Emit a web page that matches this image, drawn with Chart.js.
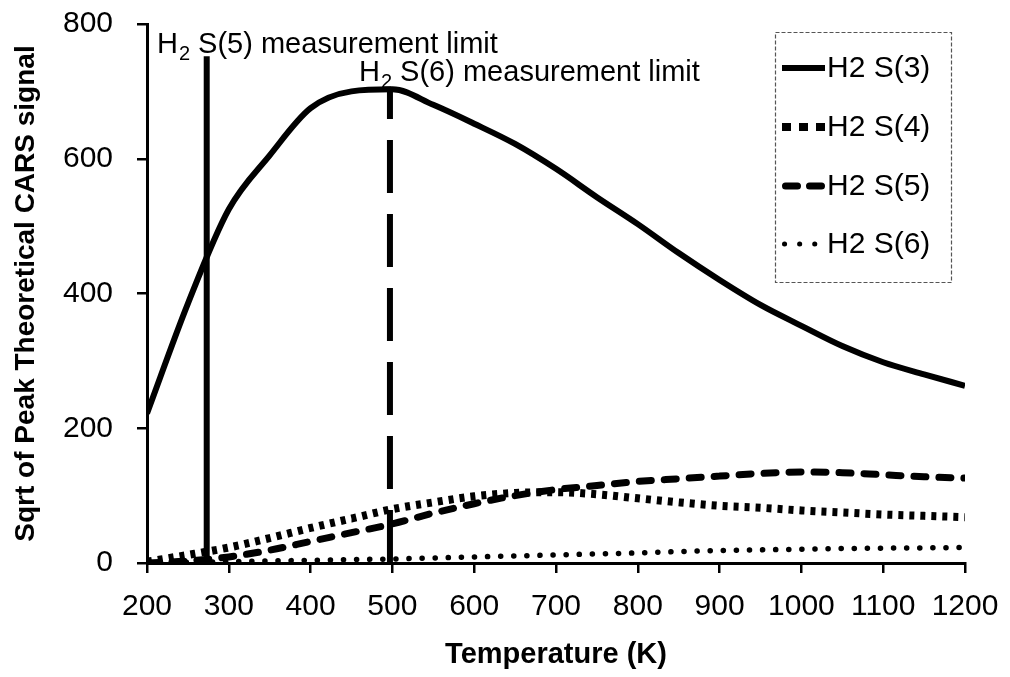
<!DOCTYPE html>
<html>
<head>
<meta charset="utf-8">
<script src="https://cdn.jsdelivr.net/npm/chart.js@4.4.1/dist/chart.umd.min.js"></script>
<style>
  html, body { margin: 0; padding: 0; background: #fff; }
  #wrap { width: 1010px; height: 677px; }
</style>
</head>
<body>
<div id="wrap"><canvas id="c" width="1010" height="677"></canvas></div>
<script>
// ---- data ----
const temperatures = [200, 250, 300, 350, 400, 450, 500, 550, 600, 650, 700, 750, 800, 850, 900, 950, 1000, 1050, 1100, 1150, 1200];
const seriesNames = ['H2 S(3)', 'H2 S(4)', 'H2 S(5)', 'H2 S(6)'];
const s3 = [222, 385, 525, 605, 675, 700, 703, 680, 652, 622, 585, 543, 503, 460, 420, 383, 352, 322, 298, 280, 263];
const s4 = [2, 12, 23, 37, 52, 66, 80, 90, 99, 104, 105, 102, 96, 90, 85, 82, 78, 75, 72, 70, 68];
const s5 = [0, 3, 9, 19, 32, 45, 58, 74, 88, 100, 109, 115, 121, 125, 129, 133, 135, 134, 131, 128, 126];
const s6 = [0, 1, 2, 3, 4, 5, 6, 7.5, 9, 10.5, 12, 13.5, 15, 17, 18.5, 19.5, 20.5, 21.5, 22, 22.5, 23];
const limitS5 = { t: 273, top: 752 };
const limitS6 = { t: 497, top: 704 };
const xTicks = [200, 300, 400, 500, 600, 700, 800, 900, 1000, 1100, 1200];
const yTicks = [0, 200, 400, 600, 800];

const toPts = (arr) => arr.map((v, i) => ({ x: temperatures[i], y: v }));

const styles = [
  { borderWidth: 6, borderDash: [], borderCapStyle: 'butt', legendDash: [], legendCap: 'butt', legendWidth: 6 },
  { borderWidth: 8, borderDash: [5, 6], borderCapStyle: 'butt', legendDash: [9, 8], legendCap: 'butt', legendWidth: 8 },
  { borderWidth: 7, borderDash: [12, 13], borderCapStyle: 'round', legendDash: [12, 12], legendCap: 'round', legendWidth: 7 },
  { borderWidth: 5.5, borderDash: [0.1, 13], borderCapStyle: 'round', legendDash: [0.1, 15], legendCap: 'round', legendWidth: 5 }
];
const seriesData = [s3, s4, s5, s6];

const datasets = seriesData.map((arr, i) => Object.assign({
  label: seriesNames[i],
  data: toPts(arr),
  borderColor: '#000',
  backgroundColor: '#000',
  pointRadius: 0,
  cubicInterpolationMode: 'monotone',
  fill: false,
  isSeries: true
}, styles[i]));

datasets.push({
  label: 'S5 limit',
  data: [{ x: limitS5.t, y: 0 }, { x: limitS5.t, y: limitS5.top }],
  borderColor: '#000', borderWidth: 6, pointRadius: 0, tension: 0, borderCapStyle: 'butt'
});
datasets.push({
  label: 'S6 limit',
  data: [{ x: limitS6.t, y: 0 }, { x: limitS6.t, y: limitS6.top }],
  borderColor: '#000', borderWidth: 6, pointRadius: 0, tension: 0, borderDash: [53, 21], borderCapStyle: 'butt'
});

const FONT = "'Liberation Sans', Arial, Helvetica, sans-serif";

const overlay = {
  id: 'overlay',
  afterDraw(chart) {
    const ctx = chart.ctx;
    ctx.save();
    ctx.fillStyle = '#000';
    ctx.textBaseline = 'alphabetic';
    function drawLimitLabel(x, y, label) {
      ctx.font = '29px ' + FONT;
      ctx.textAlign = 'left';
      ctx.fillText('H', x, y);
      let w = ctx.measureText('H').width;
      ctx.font = '20px ' + FONT;
      ctx.fillText('2', x + w + 1, y + 7);
      w += ctx.measureText('2').width + 1;
      ctx.font = '29px ' + FONT;
      ctx.fillText(' ' + label, x + w, y);
    }
    drawLimitLabel(157, 53, 'S(5) measurement limit');
    drawLimitLabel(359, 81, 'S(6) measurement limit');

    // legend
    const bx = 775, by = 32, bw = 176, bh = 250;
    ctx.strokeStyle = '#555';
    ctx.lineWidth = 1.2;
    ctx.setLineDash([4, 2]);
    ctx.strokeRect(bx + 0.5, by + 0.5, bw, bh);
    const rows = [68, 127, 186, 244];
    chart.data.datasets.forEach((ds, i) => {
      if (!ds.isSeries) return;
      const y = rows[i];
      ctx.beginPath();
      ctx.strokeStyle = '#000';
      ctx.lineWidth = ds.legendWidth;
      ctx.lineCap = ds.legendCap;
      ctx.setLineDash(ds.legendDash);
      const inset = ds.legendCap === 'round' ? ds.legendWidth / 2 : 0;
      ctx.moveTo(782 + inset, y);
      ctx.lineTo(825 - inset, y);
      ctx.stroke();
      ctx.setLineDash([]);
      ctx.font = '30px ' + FONT;
      ctx.textAlign = 'left';
      ctx.textBaseline = 'middle';
      ctx.fillText(ds.label, 827, y + 1);
    });
    ctx.restore();
  }
};

new Chart(document.getElementById('c'), {
  type: 'line',
  data: { datasets },
  plugins: [overlay],
  options: {
    responsive: false,
    animation: false,
    devicePixelRatio: 1,
    layout: { padding: { top: 24, right: 45, left: 0, bottom: 0 } },
    plugins: { legend: { display: false }, tooltip: { enabled: false } },
    scales: {
      x: {
        type: 'linear',
        min: 200, max: 1200,
        afterBuildTicks: (s) => { s.ticks = xTicks.map(v => ({ value: v })); },
        afterFit: (s) => { s.height = 114; s.paddingLeft = 0; s.paddingRight = 0; },
        ticks: { color: '#000', font: { family: FONT, size: 30 }, padding: 16, maxRotation: 0, autoSkip: false, callback: (v) => String(v) },
        grid: { drawOnChartArea: false, drawTicks: true, tickLength: 10, color: '#000', lineWidth: 2.5 },
        border: { display: true, color: '#000', width: 3 },
        title: { display: true, text: 'Temperature (K)', color: '#000', font: { family: FONT, size: 29, weight: 'bold' }, padding: { top: 0, bottom: 5 } }
      },
      y: {
        type: 'linear',
        min: 0, max: 800,
        afterBuildTicks: (s) => { s.ticks = yTicks.map(v => ({ value: v })); },
        afterFit: (s) => { s.width = 147; s.paddingTop = 0; s.paddingBottom = 0; },
        ticks: { color: '#000', font: { family: FONT, size: 30 }, padding: 24, callback: (v) => String(v) },
        grid: { drawOnChartArea: false, drawTicks: true, tickLength: 10, color: '#000', lineWidth: 2.5 },
        border: { display: true, color: '#000', width: 3 },
        title: { display: true, text: 'Sqrt of Peak Theoretical CARS signal', color: '#000', font: { family: FONT, size: 28, weight: 'bold' }, padding: { top: 9, bottom: 0 } }
      }
    }
  }
});
</script>
</body>
</html>
